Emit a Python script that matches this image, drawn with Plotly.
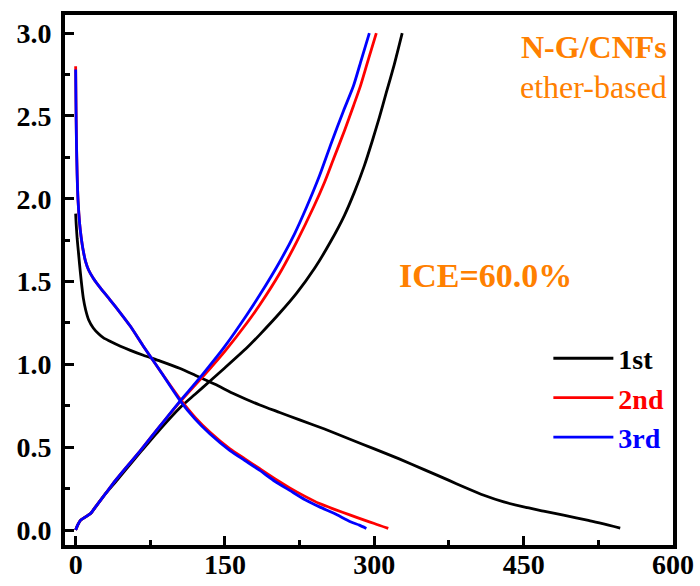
import plotly.graph_objects as go

# ---- data (specific capacity mAh/g, voltage V) ----
d1_cap = [0, 0.5, 1.5, 2.6, 4, 5.5, 7.7, 10, 13, 17.7, 23, 28, 34.5, 45, 55, 68, 85, 105,
          120, 140, 160, 185, 205, 225, 250, 275, 300, 325, 350, 375, 390, 410, 430, 450, 470, 490, 515, 547]
d1_v = [1.91, 1.85, 1.76, 1.69, 1.60, 1.51, 1.40, 1.33, 1.27, 1.22, 1.185, 1.16, 1.14, 1.11, 1.085,
        1.055, 1.02, 0.975, 0.935, 0.88, 0.82, 0.755, 0.71, 0.665, 0.61, 0.55, 0.49, 0.43, 0.365,
        0.30, 0.26, 0.21, 0.17, 0.14, 0.115, 0.09, 0.058, 0.012]
c1_cap = [0, 2, 5, 10, 15, 20, 30, 40, 51, 65, 85, 105, 120, 135, 150, 172, 185, 205, 222, 240,
          256, 270, 280, 290, 298, 305, 312, 320, 328]
c1_v = [0.0, 0.03, 0.06, 0.08, 0.10, 0.14, 0.22, 0.29, 0.37, 0.47, 0.61, 0.74, 0.82, 0.90, 0.98,
        1.10, 1.18, 1.31, 1.43, 1.58, 1.74, 1.90, 2.04, 2.20, 2.35, 2.49, 2.64, 2.81, 3.0]

d2_cap = [0, 0.3, 0.8, 1.5, 2.4, 4, 5.5, 7.5, 10, 13, 17.7, 25, 34.5, 45, 55, 68, 85, 105, 120,
          135, 155, 170, 185, 200, 215, 230, 245, 260, 276, 290, 300, 314]
d2_v = [2.80, 2.60, 2.35, 2.15, 1.99, 1.85, 1.77, 1.69, 1.62, 1.57, 1.52, 1.46, 1.39, 1.31, 1.23,
        1.11, 0.96, 0.79, 0.68, 0.59, 0.49, 0.43, 0.37, 0.31, 0.255, 0.205, 0.16, 0.125, 0.09,
        0.06, 0.04, 0.01]
c2_cap = [0, 2, 5, 10, 15, 20, 30, 40, 51, 65, 85, 105, 120, 135, 150, 172, 185, 205, 222, 239,
          250, 259, 270, 279, 286, 292, 297, 302]
c2_v = [0.0, 0.03, 0.06, 0.08, 0.10, 0.14, 0.22, 0.30, 0.38, 0.48, 0.63, 0.775, 0.875, 0.975, 1.08,
        1.25, 1.36, 1.55, 1.74, 1.95, 2.10, 2.24, 2.41, 2.56, 2.68, 2.80, 2.90, 3.0]

d3_cap = [0, 0.3, 0.8, 1.5, 2.4, 4, 5.5, 7.5, 10, 13, 17.7, 25, 34.5, 45, 55, 68, 85, 105, 120,
          135, 155, 170, 185, 200, 215, 230, 245, 260, 276, 285, 292]
d3_v = [2.78, 2.58, 2.34, 2.14, 1.99, 1.85, 1.77, 1.69, 1.62, 1.57, 1.52, 1.46, 1.39, 1.31, 1.23,
        1.11, 0.96, 0.78, 0.67, 0.58, 0.48, 0.42, 0.36, 0.295, 0.24, 0.185, 0.14, 0.10, 0.05,
        0.03, 0.01]
c3_cap = [0, 2, 5, 10, 15, 20, 30, 40, 51, 65, 85, 105, 120, 135, 150, 172, 185, 205, 220, 232,
          245, 257, 269, 279, 287, 295]
c3_v = [0.0, 0.03, 0.06, 0.08, 0.10, 0.14, 0.22, 0.30, 0.38, 0.48, 0.63, 0.78, 0.885, 0.995, 1.11,
        1.30, 1.42, 1.62, 1.79, 1.95, 2.14, 2.34, 2.53, 2.68, 2.84, 3.0]

x_ticks = [0, 150, 300, 450, 600]
y_ticks = [0.0, 0.5, 1.0, 1.5, 2.0, 2.5, 3.0]
y_labels = ["0.0", "0.5", "1.0", "1.5", "2.0", "2.5", "3.0"]

ORANGE = "#FF8000"
FONT = "Liberation Serif, Times New Roman, serif"

fig = go.Figure()
cycles = [
    ("1st", "black", d1_cap, d1_v, c1_cap, c1_v),
    ("2nd", "#FF0000", d2_cap, d2_v, c2_cap, c2_v),
    ("3rd", "#0000FF", d3_cap, d3_v, c3_cap, c3_v),
]
for name, col, dc, dv, cc, cv in cycles:
    fig.add_trace(go.Scatter(x=dc, y=dv, mode="lines", line=dict(color=col, width=2.8, shape="spline", smoothing=0.6),
                             name=f"<b><span style='color:{col}'>{name}</span></b>", legendgroup=name, showlegend=True))
    fig.add_trace(go.Scatter(x=cc, y=cv, mode="lines", line=dict(color=col, width=2.8, shape="spline", smoothing=0.6),
                             name=name, legendgroup=name, showlegend=False))

axis_common = dict(showline=True, linewidth=4, linecolor="black", mirror=True,
                   ticks="inside", ticklen=9, tickwidth=3, tickcolor="black",
                   showgrid=False, zeroline=False, automargin=False,
                   tickfont=dict(family=FONT, size=28, color="black", weight="bold"))

fig.update_xaxes(range=[-10.7, 600], tickvals=x_ticks, ticklabelstandoff=-9,
                 minor=dict(ticks="inside", ticklen=5, tickwidth=3, tickcolor="black", dtick=75, tick0=0, showgrid=False),
                 **axis_common)
fig.update_yaxes(range=[-0.09, 3.109], tickvals=y_ticks, ticktext=y_labels, ticklabelstandoff=4,
                 minor=dict(ticks="inside", ticklen=5, tickwidth=3, tickcolor="black", dtick=0.25, tick0=0, showgrid=False),
                 **axis_common)

fig.add_annotation(text="<b>N-G/CNFs</b>", xref="paper", yref="paper", x=0.993, y=0.940,
                   xanchor="right", yanchor="middle", showarrow=False,
                   font=dict(family=FONT, size=32, color=ORANGE))
fig.add_annotation(text="ether-based", xref="paper", yref="paper", x=0.993, y=0.864,
                   xanchor="right", yanchor="middle", showarrow=False,
                   font=dict(family=FONT, size=32, color=ORANGE))
fig.add_annotation(text="<b>ICE=60.0%</b>", xref="paper", yref="paper", x=0.546, y=0.508,
                   xanchor="left", yanchor="middle", showarrow=False,
                   font=dict(family=FONT, size=34, color=ORANGE))

fig.update_layout(
    width=700, height=586,
    margin=dict(l=65, r=27, t=15, b=41),
    plot_bgcolor="white", paper_bgcolor="white",
    legend=dict(x=0.795, y=0.399, xanchor="left", yanchor="top", bgcolor="rgba(0,0,0,0)",
                font=dict(family=FONT, size=28, color="black"), itemwidth=60, tracegroupgap=0),
    showlegend=True,
)

fig.write_html("out.html")
